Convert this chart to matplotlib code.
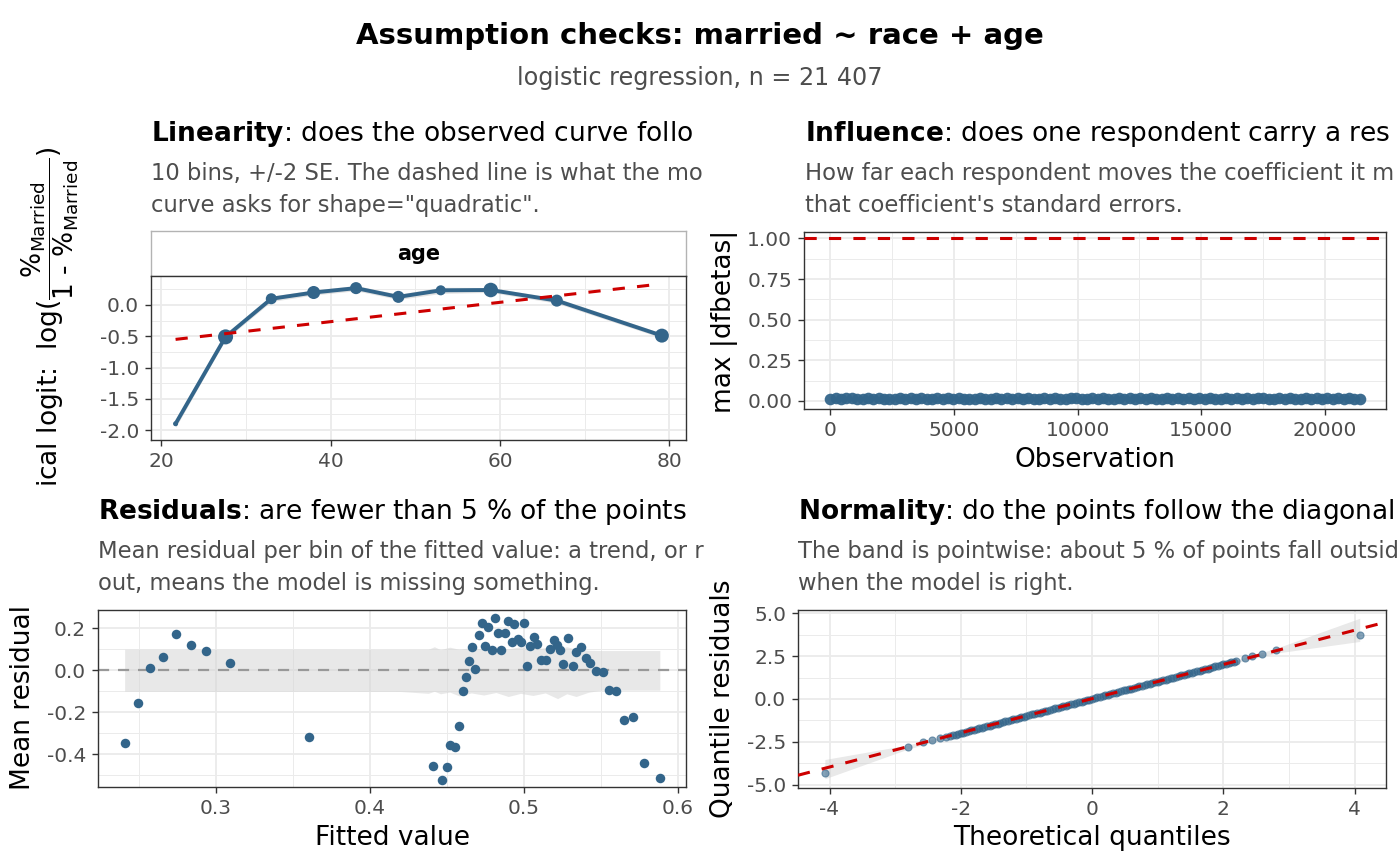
import numpy as np
import matplotlib
matplotlib.use('Agg')
import matplotlib.pyplot as plt
from matplotlib.ticker import FixedLocator, FormatStrFormatter

plt.rcParams['font.family'] = ['DejaVu Sans']
plt.rcParams['axes.unicode_minus'] = False
plt.rcParams['mathtext.fontset'] = 'dejavusans'

# --- linearity: empirical logit per age bin ---
bin_age = [21.7, 27.6, 33.0, 38.0, 43.0, 48.0, 53.0, 58.9, 66.7, 79.1]
bin_logit = [-1.90, -0.51, 0.10, 0.20, 0.27, 0.13, 0.235, 0.24, 0.07, -0.49]
bin_se = [0.030, 0.020, 0.022, 0.020, 0.021, 0.021, 0.025, 0.019, 0.021, 0.019]
bin_n = [360, 3260, 1750, 2450, 2090, 2090, 1450, 3050, 2090, 2817]
fit_age = [21.7, 77.9]
fit_logit = [-0.55, 0.32]

# --- influence: max |dfbetas| (sampled along the observations) ---
dfb_vals = [0.012, 0.016, 0.010, 0.015, 0.019, 0.011, 0.009, 0.016, 0.013, 0.017,
            0.010, 0.014, 0.010, 0.016, 0.012, 0.018, 0.011, 0.015, 0.010, 0.013,
            0.017, 0.010, 0.016, 0.012, 0.019, 0.010, 0.014, 0.011, 0.016, 0.013,
            0.010, 0.017, 0.012, 0.015, 0.010, 0.017, 0.013, 0.019, 0.010, 0.014,
            0.016, 0.011, 0.017, 0.012, 0.010, 0.015, 0.018, 0.010, 0.013, 0.016,
            0.011, 0.017, 0.014, 0.010, 0.016, 0.012, 0.019, 0.010, 0.015, 0.013,
            0.017, 0.010, 0.014, 0.016, 0.011, 0.016, 0.012, 0.018, 0.010, 0.015,
            0.013, 0.017, 0.010, 0.014, 0.019, 0.012, 0.016, 0.010, 0.016, 0.011,
            0.015, 0.017, 0.010, 0.013, 0.017, 0.012, 0.016, 0.010, 0.014, 0.018,
            0.011, 0.016, 0.013, 0.015, 0.010, 0.017, 0.012, 0.016, 0.010, 0.014]
n_obs = 21407
dfb_cut = 1.0

# --- residuals: mean residual per bin of fitted value ---
res_fit = [0.2409, 0.2495, 0.2574, 0.2658, 0.2745, 0.2841, 0.2939, 0.3093, 0.3609,
           0.4412, 0.4470, 0.4499, 0.4522, 0.4551, 0.4580, 0.4603, 0.4626, 0.4647,
           0.4667, 0.4687, 0.4708, 0.4728, 0.4751, 0.4771, 0.4792, 0.4812, 0.4835,
           0.4855, 0.4879, 0.4899, 0.4922, 0.4940, 0.4963, 0.4983, 0.5003, 0.5023,
           0.5044, 0.5067, 0.5087, 0.5113, 0.5145, 0.5174, 0.5194, 0.5218, 0.5238,
           0.5258, 0.5287, 0.5322, 0.5340, 0.5369, 0.5403, 0.5432, 0.5470, 0.5514,
           0.5557, 0.5601, 0.5650, 0.5711, 0.5783, 0.5884]
res_mean = [-0.345, -0.156, 0.012, 0.065, 0.173, 0.122, 0.092, 0.035, -0.316,
            -0.456, -0.522, -0.462, -0.357, -0.365, -0.267, -0.100, -0.033, 0.044,
            0.111, 0.005, 0.167, 0.227, 0.117, 0.205, 0.098, 0.251, 0.177,
            0.097, 0.177, 0.236, 0.135, 0.220, 0.148, 0.133, 0.224, 0.020,
            0.117, 0.157, 0.124, 0.049, 0.049, 0.101, 0.144, 0.120, 0.097,
            0.030, 0.155, 0.022, 0.089, 0.110, 0.057, 0.033, -0.003, -0.010,
            -0.095, -0.098, -0.235, -0.224, -0.441, -0.513]
band_fit = [0.2409, 0.30, 0.36, 0.42, 0.438, 0.442, 0.446, 0.452, 0.458, 0.466, 0.474,
            0.482, 0.49, 0.498, 0.506, 0.514, 0.522, 0.528, 0.534, 0.542, 0.55, 0.5884]
band_hi = [0.100, 0.100, 0.100, 0.099, 0.100, 0.112, 0.098, 0.110, 0.100, 0.108, 0.100,
           0.110, 0.102, 0.112, 0.100, 0.108, 0.100, 0.112, 0.100, 0.095, 0.094, 0.094]
band_lo = [-0.100, -0.101, -0.100, -0.101, -0.110, -0.100, -0.112, -0.104, -0.122, -0.108,
           -0.118, -0.106, -0.125, -0.110, -0.120, -0.108, -0.135, -0.112, -0.125, -0.105,
           -0.095, -0.095]

# --- normality: quantile residuals vs theoretical quantiles ---
qq_theo = [-4.07, -2.81, -2.57, -2.44, -2.32, -2.23, -2.17, -2.12, -2.08, -2.04,
           -2.00, -1.96, -1.92, -1.88, -1.84, -1.80, -1.76, -1.72, -1.68, -1.64,
           -1.60, -1.56, -1.52, -1.48, -1.44, -1.40, -1.36, -1.32, -1.28, -1.24,
           -1.20, -1.16, -1.12, -1.08, -1.04, -1.00, -0.96, -0.92, -0.88, -0.84,
           -0.80, -0.76, -0.72, -0.68, -0.64, -0.60, -0.56, -0.52, -0.48, -0.44,
           -0.40, -0.36, -0.32, -0.28, -0.24, -0.20, -0.16, -0.12, -0.08, -0.04,
           0.00, 0.04, 0.08, 0.12, 0.16, 0.20, 0.24, 0.28, 0.32, 0.36,
           0.40, 0.44, 0.48, 0.52, 0.56, 0.60, 0.64, 0.68, 0.72, 0.76,
           0.80, 0.84, 0.88, 0.92, 0.96, 1.00, 1.04, 1.08, 1.12, 1.16,
           1.20, 1.24, 1.28, 1.32, 1.36, 1.40, 1.44, 1.48, 1.52, 1.56,
           1.60, 1.64, 1.68, 1.72, 1.76, 1.80, 1.84, 1.88, 1.92, 1.96,
           2.00, 2.04, 2.08, 2.12, 2.16, 2.19, 2.33, 2.44, 2.59, 2.80, 4.08]
qq_resid = [-4.30, -2.81, -2.52, -2.40, -2.29, -2.22, -2.16, -2.11, -2.07, -2.03,
            -1.99, -1.95, -1.90, -1.87, -1.83, -1.79, -1.75, -1.70, -1.67, -1.63,
            -1.59, -1.55, -1.50, -1.47, -1.43, -1.39, -1.35, -1.30, -1.27, -1.23,
            -1.19, -1.15, -1.10, -1.07, -1.03, -0.99, -0.95, -0.90, -0.87, -0.83,
            -0.79, -0.75, -0.70, -0.67, -0.63, -0.59, -0.55, -0.50, -0.47, -0.43,
            -0.39, -0.35, -0.30, -0.27, -0.23, -0.19, -0.15, -0.10, -0.07, -0.03,
            0.01, 0.05, 0.10, 0.13, 0.17, 0.21, 0.25, 0.30, 0.33, 0.37,
            0.41, 0.45, 0.50, 0.53, 0.57, 0.61, 0.65, 0.70, 0.73, 0.77,
            0.81, 0.85, 0.90, 0.93, 0.97, 1.01, 1.05, 1.10, 1.13, 1.17,
            1.21, 1.25, 1.30, 1.33, 1.37, 1.41, 1.45, 1.50, 1.53, 1.57,
            1.61, 1.65, 1.70, 1.73, 1.77, 1.81, 1.85, 1.90, 1.93, 1.97,
            2.01, 2.05, 2.09, 2.14, 2.18, 2.23, 2.36, 2.50, 2.63, 2.87, 3.74]
qq_band_x = [-4.07, -2.81, -2.2, -1.0, 0.0, 1.0, 2.2, 2.82, 4.08]
qq_band_lo = [-4.64, -2.92, -2.27, -1.04, -0.03, 0.96, 2.12, 2.68, 3.35]
qq_band_hi = [-3.52, -2.68, -2.13, -0.96, 0.04, 1.04, 2.27, 2.97, 4.70]
qq_intercept = 0.02
qq_slope = 0.995

BLUE = '#33658A'
RED = '#CD0000'
W, H = 1400, 866

fig = plt.figure(figsize=(W / 100, H / 100), dpi=100)
fig.patch.set_facecolor('white')


def px_axes(x0, y0, x1, y1):
    return fig.add_axes([x0 / W, 1 - y1 / H, (x1 - x0) / W, (y1 - y0) / H])


def ftext(x, y, s, **kw):
    return fig.text(x / W, 1 - y / H, s, **kw)


def style(ax, xmaj, xmin, ymaj, ymin, xfmt, yfmt, xlim, ylim):
    ax.set_xlim(*xlim)
    ax.set_ylim(*ylim)
    ax.xaxis.set_major_locator(FixedLocator(xmaj))
    ax.xaxis.set_minor_locator(FixedLocator(xmin))
    ax.yaxis.set_major_locator(FixedLocator(ymaj))
    ax.yaxis.set_minor_locator(FixedLocator(ymin))
    ax.xaxis.set_major_formatter(FormatStrFormatter(xfmt))
    ax.yaxis.set_major_formatter(FormatStrFormatter(yfmt))
    ax.grid(True, which='major', color='#EBEBEB', lw=1.3)
    ax.grid(True, which='minor', color='#EBEBEB', lw=0.7)
    ax.set_axisbelow(True)
    ax.tick_params(which='major', length=4, width=1, color='#333333',
                   labelsize=14.5, labelcolor='#4D4D4D', pad=4.5)
    ax.tick_params(which='minor', length=0)
    for sp in ax.spines.values():
        sp.set_color('#333333')
        sp.set_linewidth(1.0)


def panel_head(x, y, title, sub1, sub2):
    # the layout cuts each panel header at the cell edge, only the visible part is kept
    ftext(x, y, title, fontsize=19, va='baseline', ha='left')
    ftext(x, y + 39, sub1, fontsize=16.3, color='#4D4D4D', va='baseline', ha='left')
    ftext(x, y + 71, sub2, fontsize=16.3, color='#4D4D4D', va='baseline', ha='left')


# overall title
ftext(700, 44, 'Assumption checks: married ~ race + age', fontsize=21,
      fontweight='bold', ha='center', va='baseline')
ftext(700, 85, 'logistic regression, n = 21 407', fontsize=17.2,
      color='#4D4D4D', ha='center', va='baseline')

# ---------- Linearity ----------
panel_head(151, 141, r'$\bf{Linearity}$: does the observed curve follo',
           '10 bins, +/-2 SE. The dashed line is what the mo',
           'curve asks for shape="quadratic".')
strip = px_axes(151, 231, 686, 276)
strip.set_xticks([])
strip.set_yticks([])
for sp in strip.spines.values():
    sp.set_color('#B3B3B3')
    sp.set_linewidth(1.0)
strip.text(0.5, 0.5, 'age', fontsize=15, fontweight='bold', ha='center', va='center',
           transform=strip.transAxes)

ax1 = px_axes(151, 276, 686, 440)
style(ax1, [20, 40, 60, 80], [30, 50, 70], [-2, -1.5, -1, -0.5, 0],
      [-1.75, -1.25, -0.75, -0.25, 0.25], '%d', '%.1f', (18.8, 81.95), (-2.16, 0.464))
lo = np.array(bin_logit) - 2 * np.array(bin_se)
hi = np.array(bin_logit) + 2 * np.array(bin_se)
ax1.fill_between(bin_age, lo, hi, color='#BFBFBF', alpha=0.45, lw=0, zorder=1)
ax1.plot(bin_age, bin_logit, color=BLUE, lw=2.8, zorder=2, solid_capstyle='round')
ax1.scatter(bin_age, bin_logit, s=np.array(bin_n) * 0.036, color=BLUE, zorder=3, lw=0)
ax1.plot(fit_age, fit_logit, color=RED, lw=2.2, dashes=(4, 4), zorder=4)

ftext(50, 487, r'ical logit:  $\mathrm{log}(\dfrac{\%_{\mathrm{Married}}}{\text{1 - }\%_{\mathrm{Married}}})$',
      fontsize=19, rotation=90, ha='center', va='bottom')

# ---------- Influence ----------
panel_head(805, 141, r'$\bf{Influence}$: does one respondent carry a res',
           'How far each respondent moves the coefficient it m',
           "that coefficient's standard errors.")
ax2 = px_axes(804, 232, 1386, 409)
style(ax2, [0, 5000, 10000, 15000, 20000], [2500, 7500, 12500, 17500],
      [0, 0.25, 0.5, 0.75, 1.0], [0.125, 0.375, 0.625, 0.875], '%d', '%.2f',
      (-1069, 22477), (-0.05, 1.04))
obs = np.linspace(1, n_obs, len(dfb_vals))
ax2.scatter(obs, dfb_vals, s=70, color=BLUE, alpha=0.95, lw=0, zorder=3)
ax2.axhline(dfb_cut, color=RED, lw=2.2, dashes=(4, 4), zorder=4)
ftext(724, 321, 'max |dfbetas|', fontsize=19, rotation=90, ha='center', va='center')
ftext(1095, 460, 'Observation', fontsize=19, ha='center', va='center')

# ---------- Residuals ----------
panel_head(98, 519, r'$\bf{Residuals}$: are fewer than 5 % of the points',
           'Mean residual per bin of the fitted value: a trend, or r',
           'out, means the model is missing something.')
ax3 = px_axes(98, 610, 686, 787)
style(ax3, [0.3, 0.4, 0.5, 0.6], [0.25, 0.35, 0.45, 0.55], [-0.4, -0.2, 0.0, 0.2],
      [-0.5, -0.3, -0.1, 0.1], '%.1f', '%.1f', (0.2236, 0.6054), (-0.556, 0.287))
ax3.fill_between(band_fit, band_lo, band_hi, color='#D6D6D6', alpha=0.55, lw=0, zorder=1)
ax3.axhline(0, color='#999999', lw=1.6, dashes=(5, 4), zorder=2)
ax3.scatter(res_fit, res_mean, s=47, color=BLUE, lw=0, zorder=3)
ftext(23, 698, 'Mean residual', fontsize=19, rotation=90, ha='center', va='center')
ftext(392, 838, 'Fitted value', fontsize=19, ha='center', va='center')

# ---------- Normality ----------
panel_head(798, 519, r'$\bf{Normality}$: do the points follow the diagonal',
           'The band is pointwise: about 5 % of points fall outsid',
           'when the model is right.')
ax4 = px_axes(798, 610, 1386, 788)
style(ax4, [-4, -2, 0, 2, 4], [-3, -1, 1, 3], [-5, -2.5, 0, 2.5, 5],
      [-3.75, -1.25, 1.25, 3.75], '%d', '%.1f', (-4.48, 4.48), (-5.18, 5.18))
ax4.fill_between(qq_band_x, qq_band_lo, qq_band_hi, color='#C8C8C8', alpha=0.4, lw=0, zorder=1)
ax4.scatter(qq_theo, qq_resid, s=26, color=BLUE, alpha=0.6, edgecolors=BLUE,
            linewidths=0.8, zorder=3)
ax4.axline((0, qq_intercept), slope=qq_slope, color=RED, lw=2.2, dashes=(4, 4), zorder=4)
ftext(723, 699, 'Quantile residuals', fontsize=19, rotation=90, ha='center', va='center')
ftext(1092, 838, 'Theoretical quantiles', fontsize=19, ha='center', va='center')

fig.savefig('out.png', dpi=100)
